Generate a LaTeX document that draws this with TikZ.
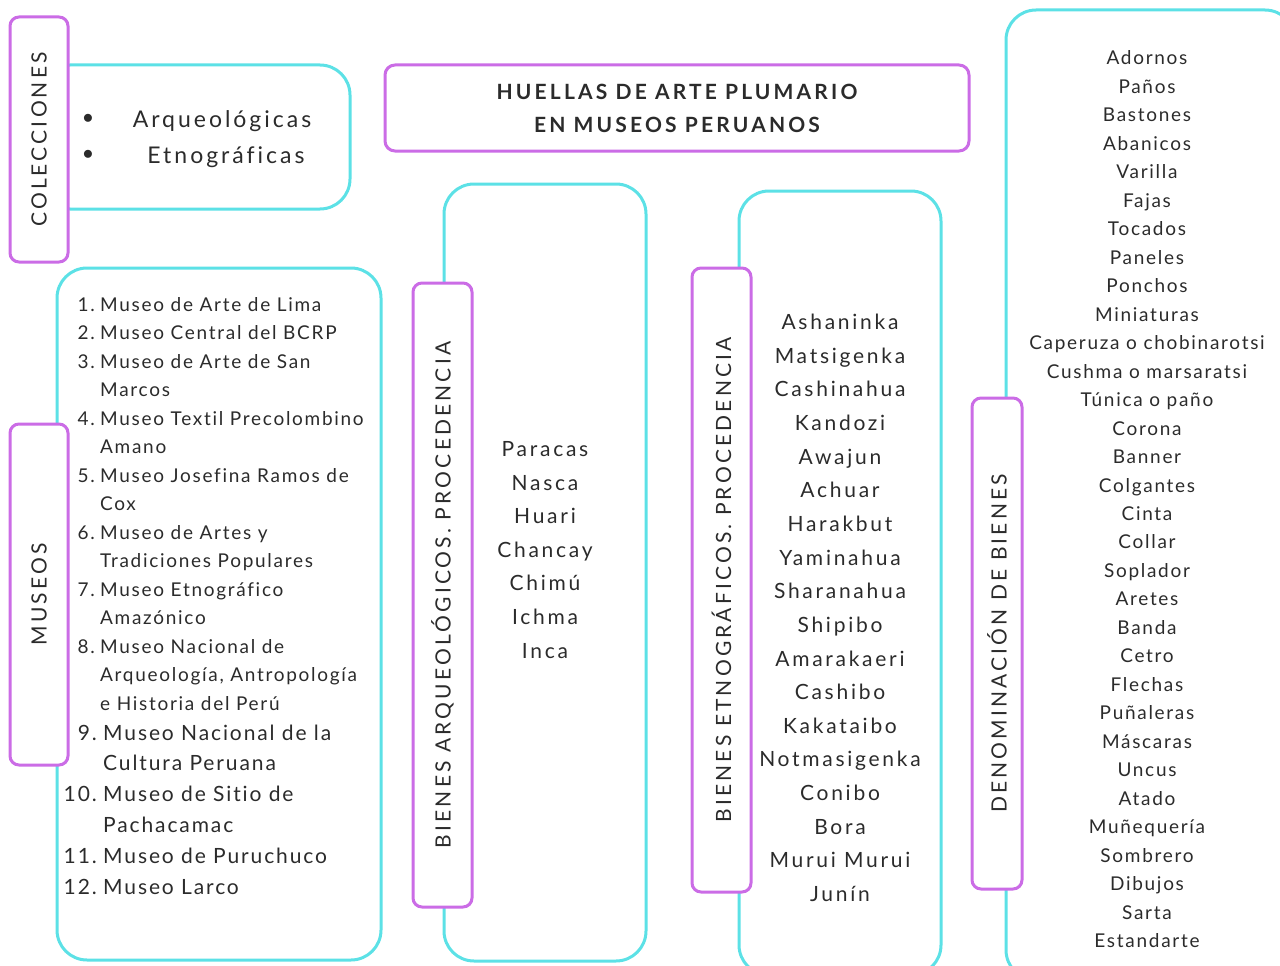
\documentclass[tikz,border=0pt]{standalone}
\usepackage{fontspec}
\setmainfont[LetterSpace=9, Ligatures=NoCommon]{Lato}
\newfontfamily\anchofont[LetterSpace=13, Ligatures=NoCommon]{Lato}
\newfontfamily\rotfont[LetterSpace=15]{Lato}
\newfontfamily\titlefont[LetterSpace=15]{Lato Bold}
\usetikzlibrary{positioning}

\definecolor{turquesa}{HTML}{5CE1E6}
\definecolor{lila}{HTML}{CB6CE6}
\definecolor{tinta}{HTML}{2B2B2B}

\tikzset{
  cajacyan/.style={draw=turquesa, line width=3pt, rounded corners=30pt, inner sep=0pt},
  cajalila/.style={draw=lila, line width=3pt, rounded corners=9pt, fill=white, inner sep=0pt},
  rotulo/.style={rotate=90, text=tinta, font=\rotfont\fontsize{21}{25}\selectfont},
  item/.style={text=tinta, font=\fontsize{19}{23}\selectfont, inner sep=0pt,
    text height=13.6pt, text depth=0pt},
  itemgrande/.style={item, font=\anchofont\fontsize{21}{25}\selectfont, text height=15pt},
  itemmedio/.style={item, font=\fontsize{21}{25}\selectfont, text height=15pt},
  num/.style={item, anchor=east},
  linea/.style={item, anchor=west},
}

\begin{document}
\begin{tikzpicture}[x=1pt, y=-1pt]
\useasboundingbox (0,0) rectangle (1280,966);
\clip (0,0) rectangle (1280,966);

% cajas turquesa
\node[cajacyan, minimum width=310pt, minimum height=144pt] (colcaja) at (195,137) {};
\node[cajacyan, minimum width=324pt, minimum height=692pt] (muscaja) at (219,614) {};
\node[cajacyan, minimum width=202pt, minimum height=777pt] (arqcaja) at (545,572.5) {};
\node[cajacyan, minimum width=202pt, minimum height=784pt] (etncaja) at (840,583) {};
\node[cajacyan, minimum width=289pt, minimum height=970pt] (dencaja) at (1150.5,495) {};

% rotulos lila
\node[cajalila, minimum width=58pt, minimum height=245pt] (colrot) at (39,139.5) {};
\node[rotulo] (coltxt) at (colrot) {COLECCIONES};
\node[cajalila, minimum width=58pt, minimum height=341pt] (musrot) at (39,594.5) {};
\node[rotulo] (mustxt) at (musrot) {MUSEOS};
\node[cajalila, minimum width=59pt, minimum height=624pt] (arqrot) at (442.5,595) {};
\node[rotulo] (arqtxt) at (arqrot) {BIENES ARQUEOLÓGICOS. PROCEDENCIA};
\node[cajalila, minimum width=59pt, minimum height=624pt] (etnrot) at (721.5,580) {};
\node[rotulo] (etntxt) at (etnrot) {BIENES ETNOGRÁFICOS. PROCEDENCIA};
\node[cajalila, minimum width=50pt, minimum height=491pt] (denrot) at (997,643.5) {};
\node[rotulo] (dentxt) at (denrot) {DENOMINACIÓN DE BIENES};

% titulo
\node[cajalila, rounded corners=10pt, minimum width=584pt, minimum height=86pt] (titulo) at (677,108) {};
\node[text=tinta, align=center, font=\titlefont\fontsize{21}{33}\selectfont] (titulotxt) at (titulo) {HUELLAS DE ARTE PLUMARIO\\EN MUSEOS PERUANOS};

% colecciones
\node[text=tinta, font=\fontsize{22}{26}\selectfont] (bala1) at (88,119) {$\bullet$};
\node[text=tinta, font=\fontsize{22}{26}\selectfont] (bala2) at (88,155) {$\bullet$};
\node[itemgrande, font=\anchofont\fontsize{23}{27}\selectfont, text height=16.5pt] (arqueo) at (222,119) {Arqueológicas};
\node[itemgrande, font=\anchofont\fontsize{23}{27}\selectfont, text height=16.5pt] (etno) at (226,155) {Etnográficas};

% museos
\node[num] (n1) at (95,305) {1.};  \node[linea] (l1) at (100,305) {Museo de Arte de Lima};
\node[num] (n2) at (95,333) {2.};  \node[linea] (l2) at (100,333) {Museo Central del BCRP};
\node[num] (n3) at (95,362) {3.};  \node[linea] (l3) at (100,362) {Museo de Arte de San};
\node[linea] (l3b) at (100,390) {Marcos};
\node[num] (n4) at (95,419) {4.};  \node[linea] (l4) at (100,419) {Museo Textil Precolombino};
\node[linea] (l4b) at (100,447) {Amano};
\node[num] (n5) at (95,476) {5.};  \node[linea] (l5) at (100,476) {Museo Josefina Ramos de};
\node[linea] (l5b) at (100,504) {Cox};
\node[num] (n6) at (95,533) {6.};  \node[linea] (l6) at (100,533) {Museo de Artes y};
\node[linea] (l6b) at (100,561) {Tradiciones Populares};
\node[num] (n7) at (95,590) {7.};  \node[linea] (l7) at (100,590) {Museo Etnográfico};
\node[linea] (l7b) at (100,618) {Amazónico};
\node[num] (n8) at (95,647) {8.};  \node[linea] (l8) at (100,647) {Museo Nacional de};
\node[linea] (l8b) at (100,675) {Arqueología, Antropología};
\node[linea] (l8c) at (100,704) {e Historia del Perú};
\node[num, itemmedio] (n9) at (97,733) {9.};  \node[linea, itemmedio] (l9) at (103,733) {Museo Nacional de la};
\node[linea, itemmedio] (l9b) at (103,763) {Cultura Peruana};
\node[num, itemmedio] (n10) at (97,794) {10.}; \node[linea, itemmedio] (l10) at (103,794) {Museo de Sitio de};
\node[linea, itemmedio] (l10b) at (103,825) {Pachacamac};
\node[num, itemmedio] (n11) at (97,856) {11.}; \node[linea, itemmedio] (l11) at (103,856) {Museo de Puruchuco};
\node[num, itemmedio] (n12) at (97,887) {12.}; \node[linea, itemmedio] (l12) at (103,887) {Museo Larco};

% procedencia arqueologica
\foreach \t [count=\i] in {Paracas, Nasca, Huari, Chancay, Chimú, Ichma, Inca}
  \node[itemgrande] (a\i) at (545,415.4+33.6*\i) {\t};

% procedencia etnografica
\foreach \t [count=\i] in {Ashaninka, Matsigenka, Cashinahua, Kandozi, Awajun, Achuar,
    Harakbut, Yaminahua, Sharanahua, Shipibo, Amarakaeri, Cashibo, Kakataibo,
    Notmasigenka, Conibo, Bora, Murui Murui, Junín}
  \node[itemgrande] (e\i) at (840,288.35+33.65*\i) {\t};

% denominacion
\foreach \t [count=\i] in {Adornos, Paños, Bastones, Abanicos, Varilla, Fajas, Tocados,
    Paneles, Ponchos, Miniaturas, Caperuza o chobinarotsi, Cushma o marsaratsi,
    Túnica o paño, Corona, Banner, Colgantes, Cinta, Collar, Soplador, Aretes, Banda,
    Cetro, Flechas, Puñaleras, Máscaras, Uncus, Atado, Muñequería, Sombrero, Dibujos,
    Sarta, Estandarte}
  \node[item] (d\i) at (1147,29.52+28.48*\i) {\t};
\end{tikzpicture}
\end{document}
